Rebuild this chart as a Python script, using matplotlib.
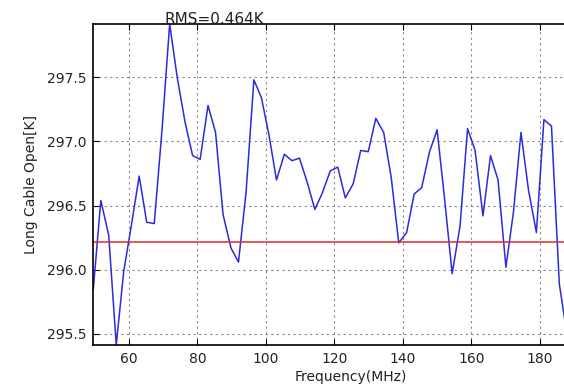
import matplotlib
matplotlib.use("Agg")
import matplotlib.pyplot as plt

# channel frequencies (MHz)
freq = [49.6, 51.8, 54.1, 56.3, 58.5, 60.8, 63.0, 65.2, 67.4, 69.7,
        71.9, 74.1, 76.4, 78.6, 80.8, 83.1, 85.3, 87.5, 89.8, 92.0,
        94.2, 96.5, 98.7, 100.9, 103.1, 105.4, 107.6, 109.8, 112.1, 114.3,
        116.5, 118.8, 121.0, 123.2, 125.5, 127.7, 129.9, 132.1, 134.4, 136.6,
        138.8, 141.1, 143.3, 145.5, 147.8, 150.0, 152.2, 154.4, 156.7, 158.9,
        161.1, 163.4, 165.6, 167.8, 170.1, 172.3, 174.5, 176.7, 179.0, 181.2,
        183.4, 185.7, 187.9]

# antenna temperature, long cable open (K)
temp = [295.85, 296.54, 296.27, 295.415, 295.99, 296.36, 296.73, 296.37, 296.36, 297.10,
        297.915, 297.50, 297.15, 296.89, 296.86, 297.28, 297.07, 296.43, 296.17, 296.06,
        296.60, 297.48, 297.34, 297.05, 296.70, 296.90, 296.85, 296.87, 296.68, 296.47,
        296.60, 296.77, 296.80, 296.56, 296.67, 296.93, 296.92, 297.18, 297.07, 296.72,
        296.21, 296.29, 296.59, 296.64, 296.92, 297.09, 296.55, 295.97, 296.34, 297.10,
        296.93, 296.42, 296.89, 296.70, 296.02, 296.45, 297.07, 296.62, 296.29, 297.17,
        297.12, 295.89, 295.50]

mean_level = 296.213
rms_text = "RMS=0.464K"

fig = plt.figure(figsize=(5.64, 3.86), dpi=100)
ax = fig.add_axes([93.3 / 564, 41 / 386, 515 / 564, 321 / 386])

ax.plot(freq, temp, color="#2b2bdc", lw=1.1)
ax.axhline(mean_level, color="#dd2a2a", lw=1.1)

ax.set_xlim(49.6, 200)
ax.set_ylim(295.414, 297.915)
ax.set_xticks([60, 80, 100, 120, 140, 160, 180])
ax.set_yticks([295.5, 296.0, 296.5, 297.0, 297.5])

ax.text(70.3, 297.915, rms_text, fontsize=11, color="#222222")

ax.set_xlabel("Frequency(MHz)", fontsize=10, color="#222222", labelpad=3)
ax.set_ylabel("Long Cable Open[K]", fontsize=10, color="#222222", labelpad=6)

ax.grid(True, color="#888888", linestyle=(0, (2, 3)), lw=0.8)
ax.tick_params(direction="in", top=True, right=True, labelsize=10,
               labelcolor="#222222", length=4, pad=5)
for s in ax.spines.values():
    s.set_linewidth(1.2)

fig.savefig("out.png", dpi=100)
